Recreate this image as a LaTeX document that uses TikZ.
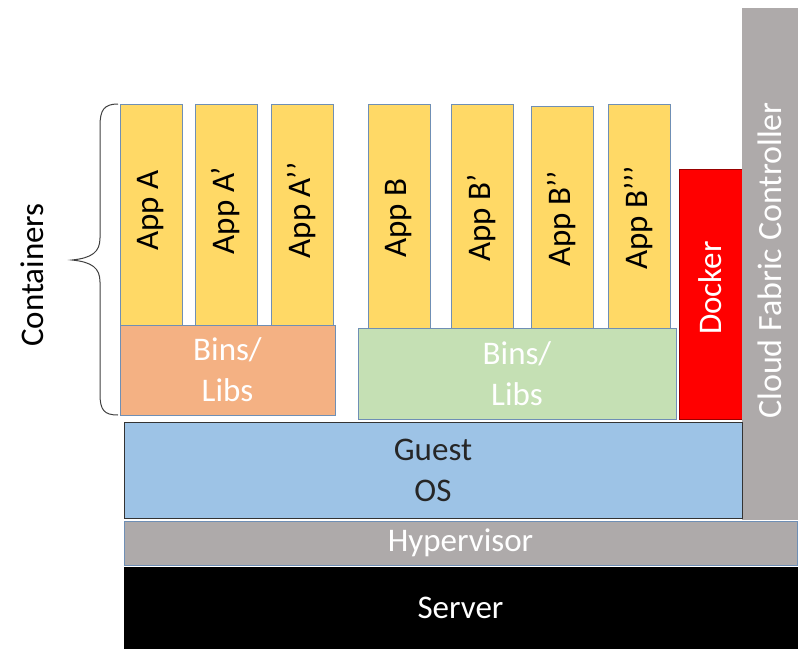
\documentclass[tikz,border=0pt]{standalone}
\usepackage{fontspec}
\setmainfont{Carlito}
\definecolor{appY}{HTML}{FFD966}
\definecolor{binO}{HTML}{F4B183}
\definecolor{binG}{HTML}{C5E0B4}
\definecolor{osB}{HTML}{9DC3E6}
\definecolor{hvG}{HTML}{AEAAAA}
\definecolor{dkR}{HTML}{FF0000}
\definecolor{edgeB}{HTML}{6F8FB5}
\newcommand\blk[6]{\node[#6, minimum width={(#4-#2)*1pt}, minimum height={(#5-#3)*1pt}] (#1) at ({(#2+#4)/2},{(#3+#5)/2}) {};}
\tikzset{
  base/.style={rectangle, inner sep=0pt, outer sep=0pt, line width=1pt},
  appbox/.style={base, fill=appY, draw=edgeB},
  binoA/.style={base, fill=binO, draw=edgeB},
  bingB/.style={base, fill=binG, draw=edgeB},
  osbox/.style={base, fill=osB, draw=black!80},
  hvbox/.style={base, fill=hvG, draw=edgeB},
  srvbox/.style={base, fill=black, draw=black},
  dkbox/.style={base, fill=dkR, draw=red!60!black},
  cfbox/.style={base, fill=hvG, draw=hvG},
  txt/.style={inner sep=0pt, font=\fontsize{33}{41}\selectfont, align=center},
  vtxt/.style={txt, rotate=90},
}
\begin{document}
\begin{tikzpicture}[x=1pt,y=-1pt]
\useasboundingbox (0,0) rectangle (807,651);
% apps
\blk{a1}{120}{104}{182}{325}{appbox}
\blk{a2}{195}{104}{257}{325}{appbox}
\blk{a3}{271}{104}{333}{325}{appbox}
\blk{b1}{368}{104}{430}{328}{appbox}
\blk{b2}{451}{104}{513}{328}{appbox}
\blk{b3}{531}{106}{593}{328}{appbox}
\blk{b4}{608}{104}{670}{328}{appbox}
\node[vtxt] (a1t) at ([yshift=4pt]a1.center) {App A};
\node[vtxt] (a2t) at ([yshift=4pt]a2.center) {App A’};
\node[vtxt] (a3t) at ([yshift=4pt]a3.center) {App A’’};
\node[vtxt] (b1t) at ([yshift=-2pt]b1.center) {App B};
\node[vtxt] (b2t) at ([yshift=-2pt]b2.center) {App B’};
\node[vtxt] (b3t) at ([yshift=-2pt]b3.center) {App B’’};
\node[vtxt] (b4t) at ([yshift=-2pt]b4.center) {App B’’’};
% bins/libs
\blk{binA}{120}{325}{335}{415}{binoA}
\blk{binB}{358}{328}{676}{419}{bingB}
\node[txt, text=white] (binAt) at (binA.center) {Bins/\\Libs};
\node[txt, text=white] (binBt) at (binB.center) {Bins/\\Libs};
% docker
\blk{dk}{679}{169}{742}{419}{dkbox}
\node[vtxt, text=white] (dkt) at ([yshift=6pt]dk.center) {Docker};
% cloud fabric controller
\blk{cf}{742}{8}{797}{519}{cfbox}
\node[vtxt, text=white, font=\fontsize{34}{41}\selectfont] (cft) at ([yshift=3pt]cf.center) {Cloud Fabric Controller};
% guest os
\blk{os}{124}{422}{742}{518}{osbox}
\node[txt, text=black!85] (ost) at (os.center) {Guest\\OS};
% hypervisor
\blk{hv}{124}{521}{797}{565}{hvbox}
\node[txt, text=white] (hvt) at (hv.center) {Hypervisor};
% server
\blk{srv}{124}{567}{797}{648}{srvbox}
\node[txt, text=white] (srvt) at (srv.center) {Server};
% brace and label
\draw[line width=1pt, black!75] (118,104) .. controls (104,104) and (100,110) .. (100,126) -- (100,238)
  .. controls (100,252) and (92,258) .. (72,260) .. controls (92,262) and (100,268) .. (100,282)
  -- (100,394) .. controls (100,410) and (104,415) .. (118,415);
\node[vtxt] (cont) at (32,275) {Containers};
\end{tikzpicture}
\end{document}
